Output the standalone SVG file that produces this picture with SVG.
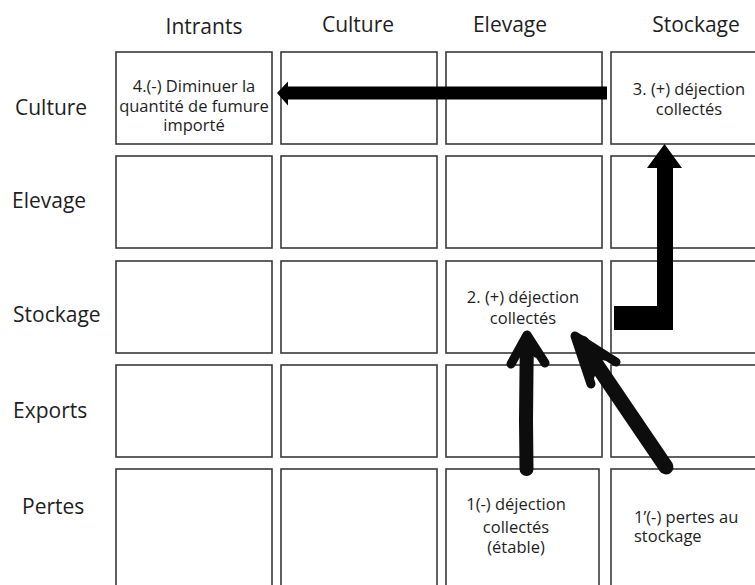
<svg xmlns="http://www.w3.org/2000/svg" width="755" height="585" viewBox="0 0 755 585">
  <style>
    .cell { fill: #ffffff; stroke: #3a3a3a; stroke-width: 1.6; }
    .hdr { font-family: "Open Sans", "Noto Sans", sans-serif; font-size: 21px; fill: #1e1e1e; }
    .txt { font-family: "Open Sans", "Noto Sans", sans-serif; font-size: 16.5px; fill: #1e1e1e; text-anchor: middle; }
    .txt-left { font-family: "Open Sans", "Noto Sans", sans-serif; font-size: 16.5px; fill: #1e1e1e; text-anchor: start; }
    .brush { fill: none; stroke: #0d0d0d; stroke-linecap: round; stroke-linejoin: round; }
  </style>
  <rect width="755" height="585" fill="#ffffff"/>

  <!-- column headers -->
  <g id="col-headers" class="hdr" text-anchor="middle">
    <text x="204" y="34">Intrants</text>
    <text x="358" y="32">Culture</text>
    <text x="510" y="32">Elevage</text>
    <text x="696" y="32">Stockage</text>
  </g>

  <!-- row headers -->
  <g id="row-headers" class="hdr">
    <text x="15" y="115">Culture</text>
    <text x="12" y="208">Elevage</text>
    <text x="13" y="322">Stockage</text>
    <text x="13" y="418">Exports</text>
    <text x="22" y="514">Pertes</text>
  </g>

  <!-- row 1: Culture -->
  <g id="culture-intrants">
    <rect class="cell" x="116" y="52" width="156" height="92"/>
    <text class="txt" x="194" y="92">4.(-) Diminuer la</text>
    <text class="txt" x="194" y="111.5">quantité de fumure</text>
    <text class="txt" x="194" y="131">importé</text>
  </g>
  <g id="culture-culture"><rect class="cell" x="281" y="52" width="156" height="92"/></g>
  <g id="culture-elevage"><rect class="cell" x="446" y="52" width="156" height="92"/></g>
  <g id="culture-stockage">
    <rect class="cell" x="611" y="52" width="160" height="92"/>
    <text class="txt" x="689" y="95">3. (+) déjection</text>
    <text class="txt" x="689" y="115">collectés</text>
  </g>

  <!-- row 2: Elevage -->
  <g id="elevage-intrants"><rect class="cell" x="116" y="156" width="156" height="92"/></g>
  <g id="elevage-culture"><rect class="cell" x="281" y="156" width="156" height="92"/></g>
  <g id="elevage-elevage"><rect class="cell" x="446" y="156" width="156" height="92"/></g>
  <g id="elevage-stockage"><rect class="cell" x="611" y="156" width="160" height="92"/></g>

  <!-- row 3: Stockage -->
  <g id="stockage-intrants"><rect class="cell" x="116" y="261" width="156" height="92"/></g>
  <g id="stockage-culture"><rect class="cell" x="281" y="261" width="156" height="92"/></g>
  <g id="stockage-elevage">
    <rect class="cell" x="446" y="261" width="156" height="92"/>
    <text class="txt" x="523" y="303">2. (+) déjection</text>
    <text class="txt" x="523" y="323.5">collectés</text>
  </g>
  <g id="stockage-stockage"><rect class="cell" x="611" y="261" width="160" height="92"/></g>

  <!-- row 4: Exports -->
  <g id="exports-intrants"><rect class="cell" x="116" y="365" width="156" height="92"/></g>
  <g id="exports-culture"><rect class="cell" x="281" y="365" width="156" height="92"/></g>
  <g id="exports-elevage"><rect class="cell" x="446" y="365" width="156" height="92"/></g>
  <g id="exports-stockage"><rect class="cell" x="611" y="365" width="160" height="92"/></g>

  <!-- row 5: Pertes -->
  <g id="pertes-intrants"><rect class="cell" x="116" y="469" width="156" height="130"/></g>
  <g id="pertes-culture"><rect class="cell" x="281" y="469" width="156" height="130"/></g>
  <g id="pertes-elevage">
    <rect class="cell" x="446" y="469" width="153" height="130"/>
    <text class="txt" x="516" y="510">1(-) déjection</text>
    <text class="txt" x="516" y="532.5">collectés</text>
    <text class="txt" x="516" y="553">(étable)</text>
  </g>
  <g id="pertes-stockage">
    <rect class="cell" x="611" y="469" width="160" height="130"/>
    <text class="txt-left" x="634" y="523">1’(-) pertes au</text>
    <text class="txt-left" x="634" y="542">stockage</text>
  </g>

  <!-- connectors -->
  <g id="connectors">
    <!-- 3 -> 4 : straight block arrow pointing left -->
    <polygon fill="#000000" points="607,86.5 288,86.5 288,81.5 277,93 288,105.5 288,99.5 607,99.5"/>

    <!-- stockage -> 3 : L-shaped block arrow -->
    <polygon fill="#000000" points="614,306 657,306 657,168 647,168 664.5,144 682,168 673,168 673,330 614,330"/>

    <!-- 1 -> 2 : hand-drawn vertical arrow -->
    <path class="brush" stroke-width="14" d="M526.5,469 L526,420 L526.5,370 L527,342"/>
    <polygon fill="#0d0d0d" points="527,331 546,362 534,357 527,348 520,357 508,364"/>
    <path class="brush" stroke-width="9" d="M527,335 L511,364 M527,335 L545,363"/>

    <!-- 1' -> 2 : hand-drawn diagonal arrow -->
    <path class="brush" stroke-width="15" d="M666,467 L630,414 L592,358 L582,343"/>
    <polygon fill="#0d0d0d" points="573,332 618,362 601,360 591,386 580,360"/>
    <path class="brush" stroke-width="9" d="M575,336 L591,384 M575,336 L616,362"/>
  </g>
</svg>
